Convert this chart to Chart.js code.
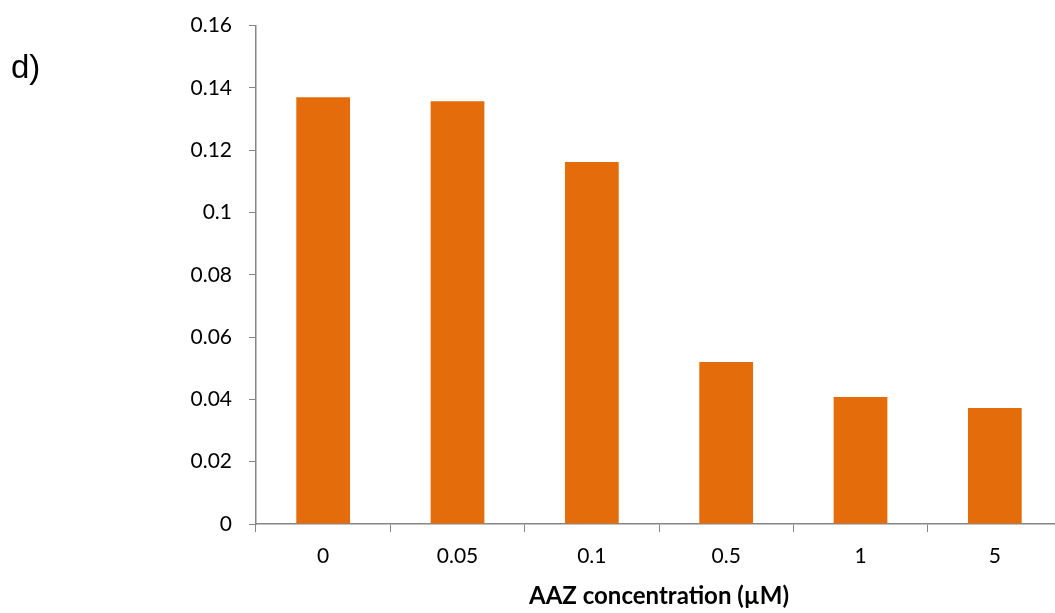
<!DOCTYPE html>
<html>
<head>
<meta charset="utf-8">
<script src="https://cdn.jsdelivr.net/npm/chart.js@4"></script>
<style>
  html, body { margin: 0; padding: 0; background: #fff; overflow: hidden; }
  #wrap { position: relative; width: 1062px; height: 613px; }
  #label { position: absolute; left: 11px; top: 48px; font-family: "Liberation Sans", Arial, sans-serif; font-size: 33px; color: #000; }
</style>
</head>
<body>
<div id="wrap">
  <canvas id="barChart"></canvas>
  <div id="label">d)</div>
</div>
<script>
// AAZ concentrations and measured values
const categories = ['0', '0.05', '0.1', '0.5', '1', '5'];
const values = [0.137, 0.1357, 0.1162, 0.052, 0.0408, 0.0372];
const yTicks = [0, 0.02, 0.04, 0.06, 0.08, 0.1, 0.12, 0.14, 0.16];

const axisGray = '#868686';
const font = { family: 'Lato, "Open Sans", sans-serif', size: 21 };

const ctx = document.getElementById('barChart').getContext('2d');
const barChart = new Chart(ctx, {
    type: 'bar',
    data: {
        labels: categories,
        datasets: [{
            data: values,
            backgroundColor: '#E46C0A',
            borderWidth: 0,
            barPercentage: 0.4,
            categoryPercentage: 1
        }]
    },
    options: {
        responsive: true,
        maintainAspectRatio: false,
        animation: false,
        layout: { padding: { top: 25.5, right: 0, bottom: 0, left: 0 } },
        plugins: { legend: { display: false }, tooltip: { enabled: false } },
        scales: {
            x: {
                grid: { drawOnChartArea: false, color: axisGray, tickLength: 8, offset: true },
                border: { color: axisGray, width: 1.5 },
                ticks: { color: '#000', font: font, padding: 12 },
                title: {
                    display: true,
                    text: 'AAZ concentration (µM)',
                    color: '#000',
                    font: { family: font.family, size: 24, weight: 'bold' },
                    padding: { top: 8, bottom: 2 }
                },
                afterFit: s => { s.height = 613 - 524; }
            },
            y: {
                min: 0,
                max: 0.16,
                afterBuildTicks: s => { s.ticks = yTicks.map(v => ({ value: v })); },
                grid: { drawOnChartArea: false, color: axisGray, tickLength: 7 },
                border: { color: axisGray, width: 1.5 },
                ticks: { color: '#000', font: font, padding: 17, callback: v => String(v) },
                afterFit: s => { s.width = 256; s.paddingTop = 0; s.paddingBottom = 0; }
            }
        }
    }
});
</script>
</body>
</html>
